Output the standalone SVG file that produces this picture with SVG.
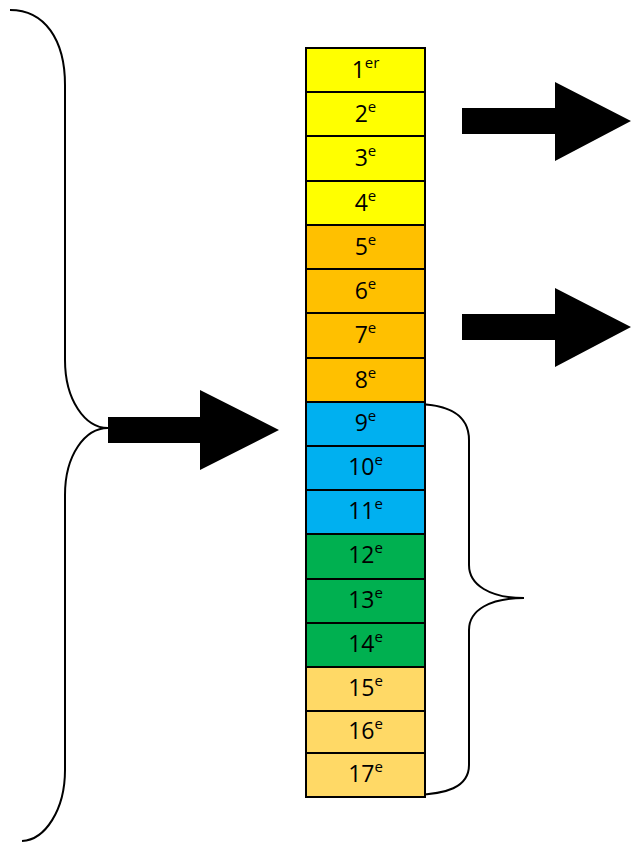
<svg xmlns="http://www.w3.org/2000/svg" width="631" height="842" viewBox="0 0 631 842">
<style>
.cell{stroke:#000;stroke-width:2}
.lbl{font-family:"Open Sans","Liberation Sans",sans-serif;font-size:23px;fill:#000;text-anchor:middle}
.sup{font-size:15px}
.brace{fill:none;stroke:#000;stroke-width:2}
.arr{fill:#000}
</style>
<rect width="631" height="842" fill="#fff"/>
<g id="connectors">
<path class="brace" d="M10,10 C45,10 65,40 65,85 L65,360 C65,400 85,428 108,428 C85,428 65,455 65,495 L65,770 C65,810 45,840 22,841"/>
<path class="brace" d="M413,404 C445,404 469,412 469,440 L469,565 C469,585 490,598 524,598 C490,598 469,610 469,630 L469,765 C469,788 445,794 415,795"/>
<polygon id="arrow-left" class="arr" points="108,417 200,417 200,390 279,430 200,470 200,443 108,443"/>
<polygon id="arrow-top" class="arr" points="462,108 555,108 555,82 631,121 555,161 555,134 462,134"/>
<polygon id="arrow-mid" class="arr" points="462,314 555,314 555,288 631,327 555,367 555,340 462,340"/>
</g>
<g id="n1"><rect class="cell" x="306" y="48" width="119" height="44" fill="#FFFF00"/><text class="lbl" x="365.5" y="78">1<tspan class="sup" dy="-10">er</tspan></text></g>
<g id="n2"><rect class="cell" x="306" y="92" width="119" height="44" fill="#FFFF00"/><text class="lbl" x="365.5" y="122">2<tspan class="sup" dy="-10">e</tspan></text></g>
<g id="n3"><rect class="cell" x="306" y="136" width="119" height="45" fill="#FFFF00"/><text class="lbl" x="365.5" y="166">3<tspan class="sup" dy="-10">e</tspan></text></g>
<g id="n4"><rect class="cell" x="306" y="181" width="119" height="44" fill="#FFFF00"/><text class="lbl" x="365.5" y="211">4<tspan class="sup" dy="-10">e</tspan></text></g>
<g id="n5"><rect class="cell" x="306" y="225" width="119" height="44" fill="#FFC000"/><text class="lbl" x="365.5" y="255">5<tspan class="sup" dy="-10">e</tspan></text></g>
<g id="n6"><rect class="cell" x="306" y="269" width="119" height="44" fill="#FFC000"/><text class="lbl" x="365.5" y="299">6<tspan class="sup" dy="-10">e</tspan></text></g>
<g id="n7"><rect class="cell" x="306" y="313" width="119" height="45" fill="#FFC000"/><text class="lbl" x="365.5" y="343">7<tspan class="sup" dy="-10">e</tspan></text></g>
<g id="n8"><rect class="cell" x="306" y="358" width="119" height="44" fill="#FFC000"/><text class="lbl" x="365.5" y="388">8<tspan class="sup" dy="-10">e</tspan></text></g>
<g id="n9"><rect class="cell" x="306" y="402" width="119" height="44" fill="#00B0F0"/><text class="lbl" x="365.5" y="431">9<tspan class="sup" dy="-10">e</tspan></text></g>
<g id="n10"><rect class="cell" x="306" y="446" width="119" height="44" fill="#00B0F0"/><text class="lbl" x="365.5" y="475">10<tspan class="sup" dy="-10">e</tspan></text></g>
<g id="n11"><rect class="cell" x="306" y="490" width="119" height="44" fill="#00B0F0"/><text class="lbl" x="365.5" y="519">11<tspan class="sup" dy="-10">e</tspan></text></g>
<g id="n12"><rect class="cell" x="306" y="534" width="119" height="45" fill="#00B050"/><text class="lbl" x="365.5" y="563">12<tspan class="sup" dy="-10">e</tspan></text></g>
<g id="n13"><rect class="cell" x="306" y="579" width="119" height="44" fill="#00B050"/><text class="lbl" x="365.5" y="608">13<tspan class="sup" dy="-10">e</tspan></text></g>
<g id="n14"><rect class="cell" x="306" y="623" width="119" height="44" fill="#00B050"/><text class="lbl" x="365.5" y="652">14<tspan class="sup" dy="-10">e</tspan></text></g>
<g id="n15"><rect class="cell" x="306" y="667" width="119" height="44" fill="#FFD966"/><text class="lbl" x="365.5" y="696">15<tspan class="sup" dy="-10">e</tspan></text></g>
<g id="n16"><rect class="cell" x="306" y="711" width="119" height="42" fill="#FFD966"/><text class="lbl" x="365.5" y="739">16<tspan class="sup" dy="-10">e</tspan></text></g>
<g id="n17"><rect class="cell" x="306" y="753" width="119" height="44" fill="#FFD966"/><text class="lbl" x="365.5" y="782">17<tspan class="sup" dy="-10">e</tspan></text></g>
</svg>
